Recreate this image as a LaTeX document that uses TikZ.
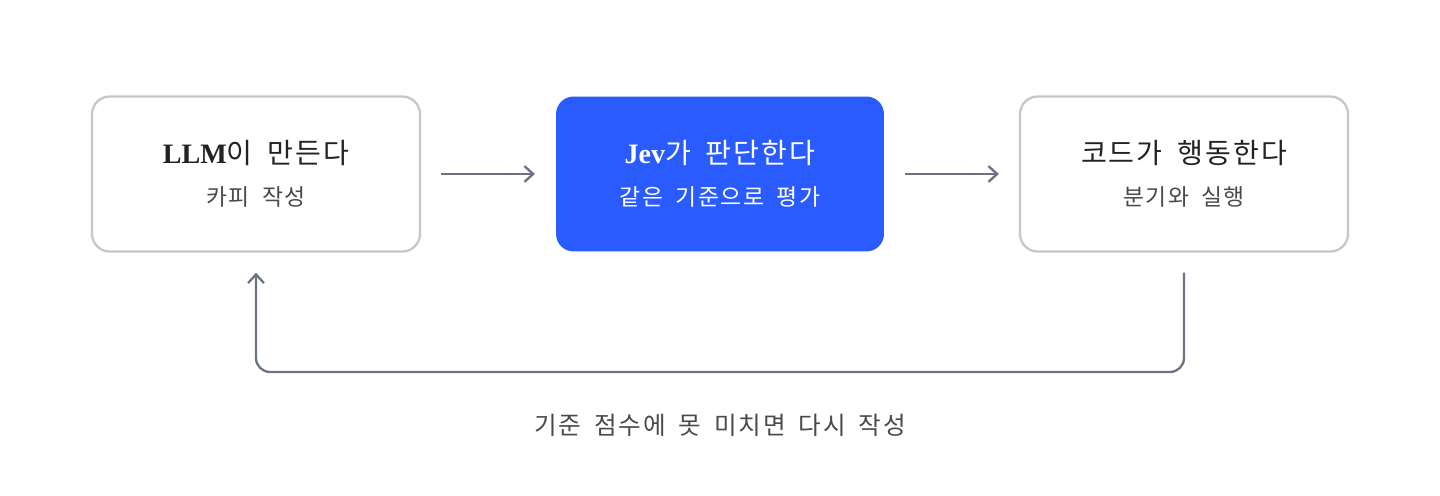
\documentclass[tikz,border=0pt]{standalone}
\usepackage{fontspec}
\setmainfont{Liberation Serif}
\newfontfamily\kr{Noto Sans CJK KR}[LetterSpace=7, WordSpace=1.8]
\usetikzlibrary{positioning, calc, arrows.meta}
\definecolor{boxline}{HTML}{C4C7CC}
\definecolor{arrowgray}{HTML}{6B7280}
\definecolor{jevblue}{HTML}{2A5BFF}
\definecolor{inktext}{HTML}{222222}
\definecolor{subtext}{HTML}{4A4A4A}
\begin{document}
\begin{tikzpicture}[x=0.02cm, y=-0.02cm]
		% Styles
		\tikzstyle{stage} = [rectangle, draw=boxline, line width=1.3pt, fill=white, rounded corners=10pt, minimum width=6.56cm, minimum height=3.1cm, align=center, text=inktext]
		\tikzstyle{judge} = [stage, draw=none, fill=jevblue, text=white]
		\tikzstyle{line} = [draw=arrowgray, line width=1.3pt, -{Straight Barb[length=5pt, width=9pt]}, rounded corners=8pt]
		\useasboundingbox (0,0) rectangle (1440,496);
		% Nodes
		\node [stage] (make) at (256,174) {{\fontsize{16}{20}\selectfont\bfseries LLM\kr\mdseries 이 만든다}\\[11pt]{\fontsize{13}{16}\selectfont\color{subtext}\kr 카피 작성}};
		\node [judge] (judge) at (720,174) {{\fontsize{16}{20}\selectfont\bfseries Jev\kr\mdseries 가 판단한다}\\[11pt]{\fontsize{13}{16}\selectfont\kr 같은 기준으로 평가}};
		\node [stage] (act) at (1184,174) {{\fontsize{16}{20}\selectfont\kr 코드가 행동한다}\\[11pt]{\fontsize{13}{16}\selectfont\color{subtext}\kr 분기와 실행}};
		\coordinate (loop) at (720,372);
		\node [text=subtext, font=\fontsize{14}{17}\selectfont\kr] (retry) at (720,425) {기준 점수에 못 미치면 다시 작성};
		% Connections
		\path [line] ([xshift=0.4cm]make.east) -- ([xshift=-0.4cm]judge.west);
		\path [line] ([xshift=0.4cm]judge.east) -- ([xshift=-0.4cm]act.west);
		\path [line] ([yshift=-0.4cm]act.south) |- (loop) -| ([yshift=-0.4cm]make.south);
	\end{tikzpicture}
\end{document}
